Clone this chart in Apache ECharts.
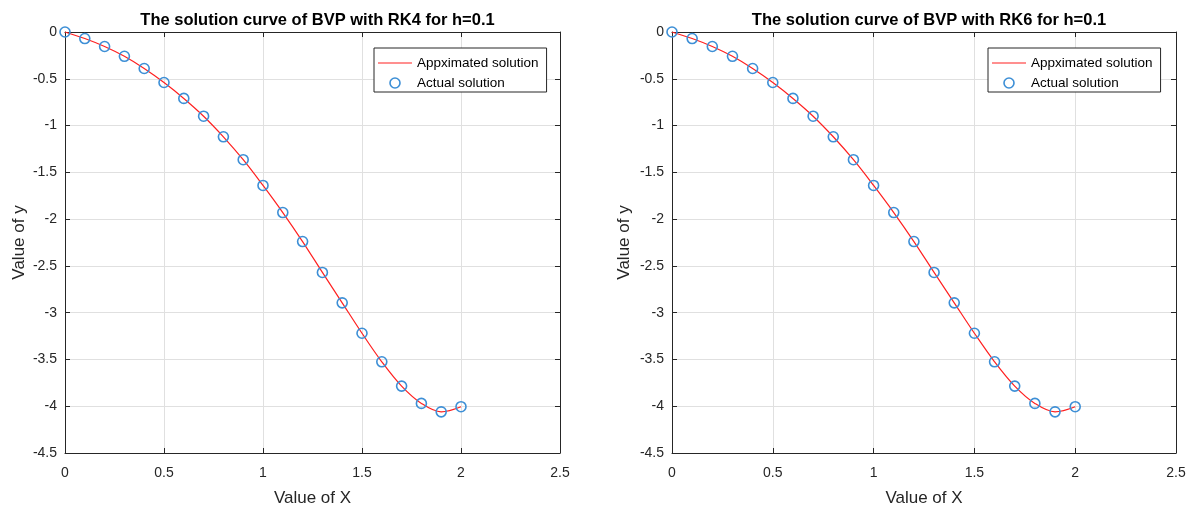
<!DOCTYPE html>
<html>
<head>
<meta charset="utf-8">
<script src="https://cdn.jsdelivr.net/npm/echarts@6/dist/echarts.min.js"></script>
<style>
html,body{margin:0;padding:0;background:#fff;}
#c{width:1193px;height:512px;}
</style>
</head>
<body>
<div id="c"></div>
<script>
// ---- data ----
var xValues = [0, 0.1, 0.2, 0.3, 0.4, 0.5, 0.6, 0.7, 0.8, 0.9, 1.0, 1.1, 1.2, 1.3, 1.4, 1.5, 1.6, 1.7, 1.8, 1.9, 2.0];
var rk4Approx = [0, -0.07, -0.155, -0.26, -0.39, -0.54, -0.71, -0.90, -1.12, -1.365, -1.64, -1.93, -2.24, -2.57, -2.895, -3.22, -3.525, -3.785, -3.97, -4.06, -4.005];
var rk4Actual = [0, -0.07, -0.155, -0.26, -0.39, -0.54, -0.71, -0.90, -1.12, -1.365, -1.64, -1.93, -2.24, -2.57, -2.895, -3.22, -3.525, -3.785, -3.97, -4.06, -4.005];
var rk6Approx = [0, -0.07, -0.155, -0.26, -0.39, -0.54, -0.71, -0.90, -1.12, -1.365, -1.64, -1.93, -2.24, -2.57, -2.895, -3.22, -3.525, -3.785, -3.97, -4.06, -4.005];
var rk6Actual = [0, -0.07, -0.155, -0.26, -0.39, -0.54, -0.71, -0.90, -1.12, -1.365, -1.64, -1.93, -2.24, -2.57, -2.895, -3.22, -3.525, -3.785, -3.97, -4.06, -4.005];
var titles = ['The solution curve of BVP with RK4 for h=0.1', 'The solution curve of BVP with RK6 for h=0.1'];
var seriesNames = ['Appximated solution', 'Actual solution'];
var xAxisName = 'Value of X';
var yAxisName = 'Value of y';

function pairs(xs, ys) { return xs.map(function (x, i) { return [x, ys[i]]; }); }

var FONT = '"Liberation Sans", Arial, Helvetica, sans-serif';
var AX = '#262626';
var GRIDC = '#e0e0e0';
var BLUE = '#3d8fd6';
var RED = '#ff2020';

var grids = [
  { left: 65, top: 32, width: 495, height: 421.5 },
  { left: 672, top: 32, width: 504, height: 425 }
];

function mainX(g) {
  return {
    type: 'value', gridIndex: g, min: 0, max: 2.5, interval: 0.5, position: 'bottom',
    name: xAxisName, nameLocation: 'middle', nameGap: 37,
    nameTextStyle: { fontFamily: FONT, fontSize: 17, color: AX },
    axisLine: { show: true, onZero: false, lineStyle: { color: AX, width: 1 } },
    axisTick: { show: true, inside: true, length: 5, lineStyle: { color: AX } },
    axisLabel: { fontFamily: FONT, fontSize: 14, color: AX, margin: 13 },
    splitLine: { show: true, lineStyle: { color: GRIDC, width: 1 } }
  };
}
function topX(g) {
  return {
    type: 'value', gridIndex: g, min: 0, max: 2.5, interval: 0.5, position: 'top',
    axisLine: { show: true, onZero: false, lineStyle: { color: AX, width: 1 } },
    axisTick: { show: true, inside: true, length: 5, lineStyle: { color: AX } },
    axisLabel: { show: false }, splitLine: { show: false }
  };
}
function mainY(g, gap) {
  return {
    type: 'value', gridIndex: g, min: -4.5, max: 0, interval: 0.5, position: 'left',
    name: yAxisName, nameLocation: 'middle', nameGap: gap, nameRotate: 90,
    nameTextStyle: { fontFamily: FONT, fontSize: 17, color: AX },
    axisLine: { show: true, onZero: false, lineStyle: { color: AX, width: 1 } },
    axisTick: { show: true, inside: true, length: 5, lineStyle: { color: AX } },
    axisLabel: { fontFamily: FONT, fontSize: 14, color: AX, margin: 8 },
    splitLine: { show: true, lineStyle: { color: GRIDC, width: 1 } }
  };
}
function rightY(g) {
  return {
    type: 'value', gridIndex: g, min: -4.5, max: 0, interval: 0.5, position: 'right',
    axisLine: { show: true, onZero: false, lineStyle: { color: AX, width: 1 } },
    axisTick: { show: true, inside: true, length: 5, lineStyle: { color: AX } },
    axisLabel: { show: false }, splitLine: { show: false }
  };
}

function lineSeries(xi, yi, ys) {
  return {
    name: seriesNames[0], type: 'line', xAxisIndex: xi, yAxisIndex: yi,
    data: pairs(xValues, ys), smooth: 0.35, symbol: 'none',
    lineStyle: { color: RED, width: 1.2 }, itemStyle: { color: RED },
    z: 2, animation: false
  };
}
function circleSeries(xi, yi, ys) {
  return {
    name: seriesNames[1], type: 'scatter', xAxisIndex: xi, yAxisIndex: yi,
    data: pairs(xValues, ys), symbol: 'circle', symbolSize: 10,
    itemStyle: { color: 'rgba(0,0,0,0)', borderColor: BLUE, borderWidth: 1.6, opacity: 1 },
    z: 3, animation: false
  };
}

function legendAt(left) {
  return {
    orient: 'vertical', left: left, top: 48,
    padding: [8, 8, 2, 4], itemGap: 6, itemWidth: 34, itemHeight: 10,
    backgroundColor: '#ffffff', borderColor: '#262626', borderWidth: 1, borderRadius: 0,
    textStyle: { fontFamily: FONT, fontSize: 13.5, color: '#000000' },
    selectedMode: false,
    data: [
      { name: seriesNames[0], icon: 'path://M0,0 L34,0 L34,1.2 L0,1.2 Z', itemStyle: { color: RED, borderWidth: 0 } },
      { name: seriesNames[1], icon: 'circle', itemStyle: { color: 'rgba(0,0,0,0)', borderColor: BLUE, borderWidth: 1.6 } }
    ]
  };
}

var chart = echarts.init(document.getElementById('c'), null, { renderer: 'canvas' });
chart.setOption({
  animation: false,
  backgroundColor: '#ffffff',
  title: [
    { text: titles[0], left: 312.5, top: 7, textAlign: 'center',
      textStyle: { fontFamily: FONT, fontSize: 16.5, fontWeight: 'bold', color: '#000' } },
    { text: titles[1], left: 924, top: 7, textAlign: 'center',
      textStyle: { fontFamily: FONT, fontSize: 16.5, fontWeight: 'bold', color: '#000' } }
  ],
  legend: [legendAt(374), legendAt(988)],
  grid: grids,
  xAxis: [mainX(0), topX(0), mainX(1), topX(1)],
  yAxis: [mainY(0, 37), rightY(0), mainY(1, 39), rightY(1)],
  series: [
    lineSeries(0, 0, rk4Approx), circleSeries(0, 0, rk4Actual),
    lineSeries(2, 2, rk6Approx), circleSeries(2, 2, rk6Actual)
  ]
});
</script>
</body>
</html>
